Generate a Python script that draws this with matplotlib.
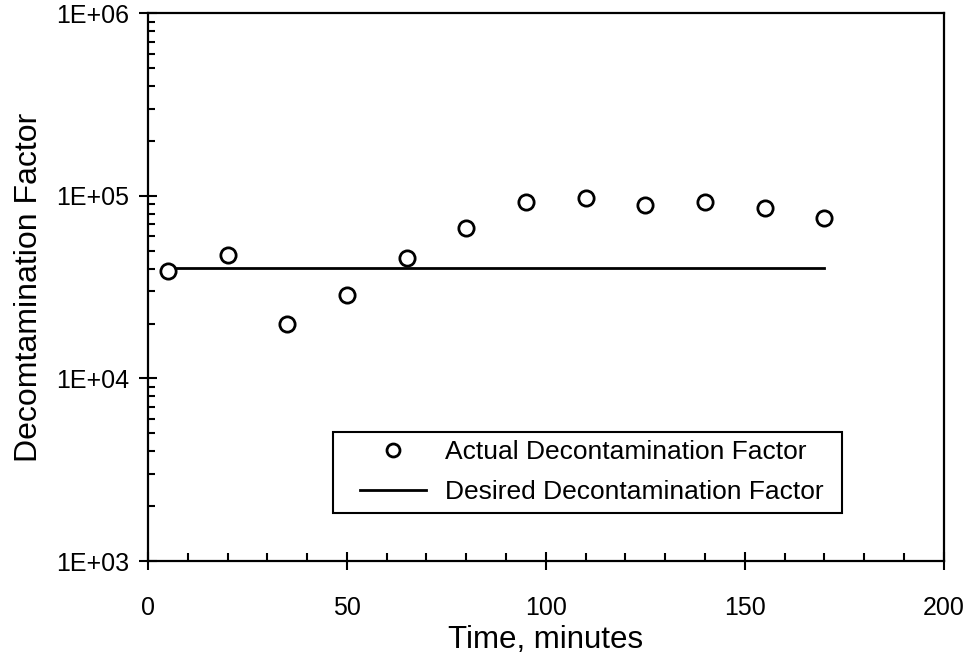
import matplotlib
matplotlib.use("Agg")
import matplotlib.pyplot as plt
from matplotlib.patches import Rectangle
from matplotlib.ticker import FixedLocator, LogLocator, FuncFormatter, NullFormatter
import numpy as np

plt.rcParams['font.family'] = ['Liberation Sans', 'DejaVu Sans']

# data
time_min = [5, 20, 35, 50, 65, 80, 95, 110, 125, 140, 155, 170]
actual_df = [38700, 47300, 19900, 28600, 45800, 66600, 92400, 97000, 88800, 93000, 85700, 75800]
desired_x = [5, 170]
desired_df = [40200, 40200]

fig = plt.figure(figsize=(9.67, 6.64), dpi=100)
ax = fig.add_axes([0.153, 0.155, 0.823, 0.825])

ax.plot(time_min, actual_df, ls='none', marker='o', ms=11, mfc='white', mec='black', mew=2,
        label='Actual Decontamination Factor', zorder=3)
ax.plot(desired_x, desired_df, color='black', lw=2, label='Desired Decontamination Factor', zorder=2)

ax.set_yscale('log')
ax.set_xlim(0, 200)
ax.set_ylim(1e3, 1e6)

ax.xaxis.set_major_locator(FixedLocator([0, 50, 100, 150, 200]))
ax.xaxis.set_minor_locator(FixedLocator(np.arange(0, 201, 10)))
ax.yaxis.set_major_locator(LogLocator(base=10, numticks=10))
ax.yaxis.set_minor_locator(LogLocator(base=10, subs=np.arange(2, 10), numticks=10))
ax.yaxis.set_major_formatter(FuncFormatter(lambda v, p: '1E+%02d' % int(round(np.log10(v)))))
ax.yaxis.set_minor_formatter(NullFormatter())

ax.tick_params(axis='x', which='major', direction='inout', length=13, width=1.5,
               labelsize=18, pad=19, top=False)
ax.tick_params(axis='x', which='minor', direction='in', length=6, width=1.5, top=False)
ax.tick_params(axis='y', which='major', direction='inout', length=13, width=1.5,
               labelsize=18, pad=7, right=False)
ax.tick_params(axis='y', which='minor', direction='in', length=5, width=1.5, right=False)

for s in ax.spines.values():
    s.set_linewidth(1.6)

ax.set_xlabel('Time, minutes', fontsize=22.5, labelpad=3)
ax.set_ylabel('Decomtamination Factor', fontsize=23, labelpad=9)

# legend frame drawn separately so the entries can sit inside it like the original
ax.add_patch(Rectangle((0.232, 0.088), 0.640, 0.147, transform=ax.transAxes,
                       fill=True, facecolor='white', edgecolor='black', lw=1.5, zorder=4))
leg = ax.legend(loc='center left', bbox_to_anchor=(0.266, 0.162),
                fontsize=19, frameon=False, markerscale=0.85,
                handlelength=2.5, handletextpad=0.75,
                labelspacing=0.6, borderpad=0, borderaxespad=0)
leg.set_zorder(5)

fig.savefig('out.png', dpi=100)
